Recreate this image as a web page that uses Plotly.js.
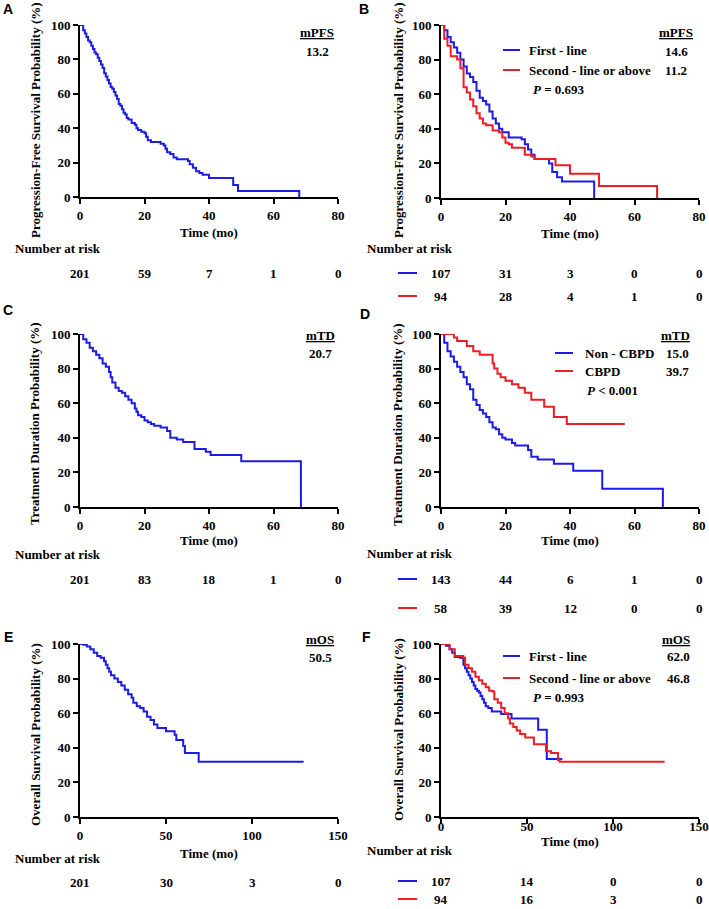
<!DOCTYPE html>
<html><head><meta charset="utf-8">
<script src="https://cdn.plot.ly/plotly-3.0.1.min.js"></script>
<style>html,body{margin:0;padding:0;background:#fff;}#chart{width:709px;height:909px;}</style>
</head><body><div id="chart"></div>
<script>
// ---------- DATA ----------
// Panel A: PFS, all patients
const tA = [0,1,1.5,2,2.5,3,3.5,4,4.5,5,5.5,6,6.5,7,7.5,8,8.5,9,9.5,10,10.5,11,11.5,12,12.5,13,13.5,14,14.5,15,16,17,17.5,18,19,20,20.5,21,22,24,25,25.5,26,26.5,27,28,29,30,33,33.5,34,35,36,37,38,40,47.5,49,68];
const sA = [100,97,95,93,91,90,88,86,84,83,81,79,77,75,72,70,68,66,64,63,61,59,57,54,53,51,49,48,46,45,43,42,40,39,38,37,35,33,32,32,31,31,30,28,26,25,23,22,22,21,19,17,15,14,13,11,7,3.5,0];
// Panel B: PFS by line
const tB1 = [0,1,2,3,4,5,6,7,8,9,10,11,12,13,14,15,16,17,18,19,21,25,26,27,28,29,33.5,34.5,36,37.5,47.5];
const sB1 = [100,97,93,90,87,84,80,76,72,70,67,62,58,56,54,50,46,43,40,38,35,34,31,28,25,22.5,20,15,12,9.5,0];
const tB2 = [0,1,2,3,5,6,7,8,9,10,11,12,13,14,16,18,19,20,21,22,26,28,29,33.5,35.5,40,49,67];
const sB2 = [100,92,88,82,80,75,64,61,57,53,49,46,43,42,39,38,35,32,31,29,25,24,22.5,22.5,19,14,7,0];
// Panel C: treatment duration, all
const tC = [0,1,2,3,4,5,6,7,8,9,9.5,10,11,12,13,14,15,16,17,17.5,18,19,20,21,22,23,25,27,28,30,32,35.5,39,40.5,50,68.5];
const sC = [100,97,95,92,90,88,86,83,81,78,75,72,69,67,66,64,62,60,57,55,53,52,50,49,48,47,46,44,40,39,37.5,33.5,32,30,26.5,0];
// Panel D: treatment duration by CBPD
const tD1 = [0,1,2,3,4,5,6,7,8,9,10,11,12,13,14,15,16,17,18,19,20,22,23,27,28,30,35,41,50,68.8];
const sD1 = [100,95,90,87,84,81,78,75,71,68,62,59,56,54,52,49,46,45,42,40,39,37,35.5,33,29,27.5,25,21,10.5,0];
const tD2 = [0,4,5,8,10,12,16,16.5,17.5,18.5,20,22,24,26,28,32,35,39,57];
const sD2 = [100,98,96,93,90,88,83,80,77,75,73,71,69,66,62,58,52,48,48];
// Panel E: OS, all
const tE = [0,2,4,6,8,10,12,14,15,16,17,18,20,22,24,26,28,30,31,33,35,37,39,41,43,45,50,55,56,60,61,69,130];
const sE = [100,99.5,98.5,97,95,93,92,90,88,86,84,82,80,78,76,73.5,71,69,66,64,63,61,58,56,53.5,51.5,49.5,47.5,44.5,41,37,32,32];
// Panel F: OS by line
const tF1 = [0,3,5,6.5,8,11,13,14,15,16,17,18,19,20,21,22,23,24,25,26,27.5,29.5,35,41,56.5,61.5,70.5];
const sF1 = [100,99,97,95,92.5,92,88,86,84,82,80,78,76,74,73,72,70,68,66,64,63,61,59.5,57,50.5,33.5,33.5];
const tF2 = [0,5,8,13,14,16,18,20,22,24,26,28,30,31,33,35,37,39,40,42,44,46,49,54,61,64,68,69,130];
const sF2 = [100,97,93,92,88,86,84,81,79,77,75,73,72.5,68,66,63,60,57,54,52,50,48,46,42,38,37,33,32,32];

// Number at risk
const riskTicks80 = [0,20,40,60,80];
const riskTicks150 = [0,50,100,150];
const riskA = [201,59,7,1,0];
const riskB1 = [107,31,3,0,0];
const riskB2 = [94,28,4,1,0];
const riskC = [201,83,18,1,0];
const riskD1 = [143,44,6,1,0];
const riskD2 = [58,39,12,0,0];
const riskE = [201,30,3,0];
const riskF1 = [107,14,0,0];
const riskF2 = [94,16,3,0];

// Labels
const legendLine = ['First - line','Second - line or above'];
const legendCBPD = ['Non - CBPD','CBPD'];
const medA = ['mPFS','13.2'];
const medB = ['mPFS','14.6','11.2'];
const medC = ['mTD','20.7'];
const medD = ['mTD','15.0','39.7'];
const medE = ['mOS','50.5'];
const medF = ['mOS','62.0','46.8'];
const pB = '<i>P</i> = 0.693', pD = '<i>P</i> < 0.001', pF = '<i>P</i> = 0.993';
const yTitles = ['Progression-Free Survival Probability (%)','Progression-Free Survival Probability (%)',
  'Treatment Duration Probability (%)','Treatment Duration Probability (%)',
  'Overall Survival Probability (%)','Overall Survival Probability (%)'];
const xTitle = 'Time (mo)';

// ---------- STYLE / LAYOUT ----------
const BLUE = '#1c1ce6', RED = '#ee1c24';
const W = 709, H = 909;
const SERIF = 'Liberation Serif';
const SANS = 'Liberation Sans';
const fx = p => p / W, fy = p => 1 - p / H;
const bfont = (size, color) => ({family: SERIF, size: size || 13, color: color || '#000', weight: 'bold'});

function km(x, y, color, ax) {
  return {type: 'scatter', mode: 'lines', x: x, y: y, xaxis: 'x' + ax, yaxis: 'y' + ax,
    line: {shape: 'hv', color: color, width: 2}, cliponaxis: false, hoverinfo: 'skip', showlegend: false};
}
const data = [
  km(tA, sA, BLUE, ''),
  km(tB1, sB1, BLUE, '2'), km(tB2, sB2, RED, '2'),
  km(tC, sC, BLUE, '3'),
  km(tD1, sD1, BLUE, '4'), km(tD2, sD2, RED, '4'),
  km(tE, sE, BLUE, '5'),
  km(tF1, sF1, BLUE, '6'), km(tF2, sF2, RED, '6')
];

// box: [left, right, top, bottom] in px; yt: [x, y] centre of rotated y title
const panels = [
  {ax: '',  box: [80, 338, 25, 197],  xmax: 80,  dtick: 20, yt: [35, 120], xst: 6, tls: 0},
  {ax: '2', box: [441, 699, 25, 198], xmax: 80,  dtick: 20, yt: [398, 120], xst: 6, tls: 0},
  {ax: '3', box: [80, 338, 334, 507], xmax: 80,  dtick: 20, yt: [35, 424], xst: 4, tls: 0},
  {ax: '4', box: [441, 699, 334, 507], xmax: 80, dtick: 20, yt: [398, 425], xst: 3, tls: 0},
  {ax: '5', box: [80, 338, 644, 817], xmax: 150, dtick: 50, yt: [35, 735], xst: 7, tls: 0},
  {ax: '6', box: [441, 699, 644, 817], xmax: 150, dtick: 50, yt: [398, 730], xst: 4, tls: -9}
];

const layout = {
  width: W, height: H, margin: {l: 0, r: 0, t: 0, b: 0},
  paper_bgcolor: '#fff', plot_bgcolor: '#fff', showlegend: false,
  font: {family: SERIF, color: '#000'},
  annotations: [], shapes: []
};
panels.forEach((p, i) => {
  const [l, r, t, b] = p.box;
  const common = {showline: true, linewidth: 2, linecolor: '#000', ticks: 'outside', ticklen: 5, tickwidth: 2,
    tickcolor: '#000', showgrid: false, zeroline: false, tickmode: 'linear', tick0: 0,
    tickfont: bfont(13), fixedrange: true};
  layout['xaxis' + p.ax] = Object.assign({}, common, {
    domain: [fx(l), fx(r)], range: [0, p.xmax], dtick: p.dtick, anchor: 'y' + p.ax,
    ticklabelstandoff: p.tls,
    title: {text: xTitle, font: bfont(13), standoff: p.xst}
  });
  layout['yaxis' + p.ax] = Object.assign({}, common, {
    domain: [fy(b), fy(t)], range: [0, 100], dtick: 20, anchor: 'x' + p.ax
  });
  layout.annotations.push({text: yTitles[i], x: fx(p.yt[0]), y: fy(p.yt[1]), xref: 'paper', yref: 'paper',
    textangle: -90, xanchor: 'center', yanchor: 'middle', showarrow: false, font: bfont(13)});
});

function txt(text, x, y, xanchor, font) {
  layout.annotations.push({text: text, x: fx(x), y: fy(y), xref: 'paper', yref: 'paper',
    xanchor: xanchor || 'center', yanchor: 'middle', showarrow: false, font: font || bfont(13)});
}
function seg(x0, x1, y, color) {
  layout.shapes.push({type: 'line', xref: 'paper', yref: 'paper', x0: fx(x0), x1: fx(x1), y0: fy(y), y1: fy(y),
    line: {color: color, width: 2}});
}
function riskRow(vals, ticks, ax, y) {
  vals.forEach((v, i) => layout.annotations.push({text: String(v), x: ticks[i], y: fy(y),
    xref: 'x' + ax, yref: 'paper', xanchor: 'center', yanchor: 'middle', showarrow: false, font: bfont(13)}));
}

// panel letters
const letterFont = {family: SANS, size: 14, color: '#000', weight: 'bold'};
txt('A', 8, 9, 'center', letterFont);
txt('B', 364, 9, 'center', letterFont);
txt('C', 8, 310, 'center', letterFont);
txt('D', 365, 314, 'center', letterFont);
txt('E', 8, 637, 'center', letterFont);
txt('F', 366, 637, 'center', letterFont);

// A
txt('<u>' + medA[0] + '</u>', 317, 33);
txt(medA[1], 317, 52);
txt('Number at risk', 13, 249, 'left');
riskRow(riskA, riskTicks80, '', 273);

// B
txt('<u>' + medB[0] + '</u>', 695, 33, 'right');
txt(medB[1], 676, 52); txt(medB[2], 676, 70);
seg(503, 520, 50, BLUE); txt(legendLine[0], 527, 50, 'left');
seg(503, 520, 70, RED); txt(legendLine[1], 527, 70, 'left');
txt(pB, 531, 89, 'left');
txt('Number at risk', 365, 249, 'left');
seg(398, 417, 273, BLUE); riskRow(riskB1, riskTicks80, '2', 273);
seg(398, 417, 296, RED); riskRow(riskB2, riskTicks80, '2', 296);

// C
txt('<u>' + medC[0] + '</u>', 320, 335);
txt(medC[1], 320, 353);
txt('Number at risk', 13, 554, 'left');
riskRow(riskC, riskTicks80, '3', 579);

// D
txt('<u>' + medD[0] + '</u>', 692, 335, 'right');
txt(medD[1], 677, 353); txt(medD[2], 677, 371);
seg(555, 573, 353, BLUE); txt(legendCBPD[0], 583, 353, 'left');
seg(555, 573, 371, RED); txt(legendCBPD[1], 583, 371, 'left');
txt(pD, 585, 390, 'left');
txt('Number at risk', 365, 553, 'left');
seg(398, 417, 579, BLUE); riskRow(riskD1, riskTicks80, '4', 579);
seg(398, 417, 608, RED); riskRow(riskD2, riskTicks80, '4', 608);

// E
txt('<u>' + medE[0] + '</u>', 320, 639);
txt(medE[1], 320, 657);
txt('Number at risk', 13, 858, 'left');
riskRow(riskE, riskTicks150, '5', 882);

// F
txt('<u>' + medF[0] + '</u>', 692, 639, 'right');
txt(medF[1], 678, 656); txt(medF[2], 678, 678);
seg(503, 520, 656, BLUE); txt(legendLine[0], 527, 656, 'left');
seg(503, 520, 678, RED); txt(legendLine[1], 527, 678, 'left');
txt(pF, 531, 697, 'left');
txt('Number at risk', 365, 850, 'left');
seg(398, 417, 881, BLUE); riskRow(riskF1, riskTicks150, '6', 881);
seg(398, 417, 899, RED); riskRow(riskF2, riskTicks150, '6', 899);

Plotly.newPlot('chart', data, layout, {staticPlot: true, displayModeBar: false});
</script></body></html>
